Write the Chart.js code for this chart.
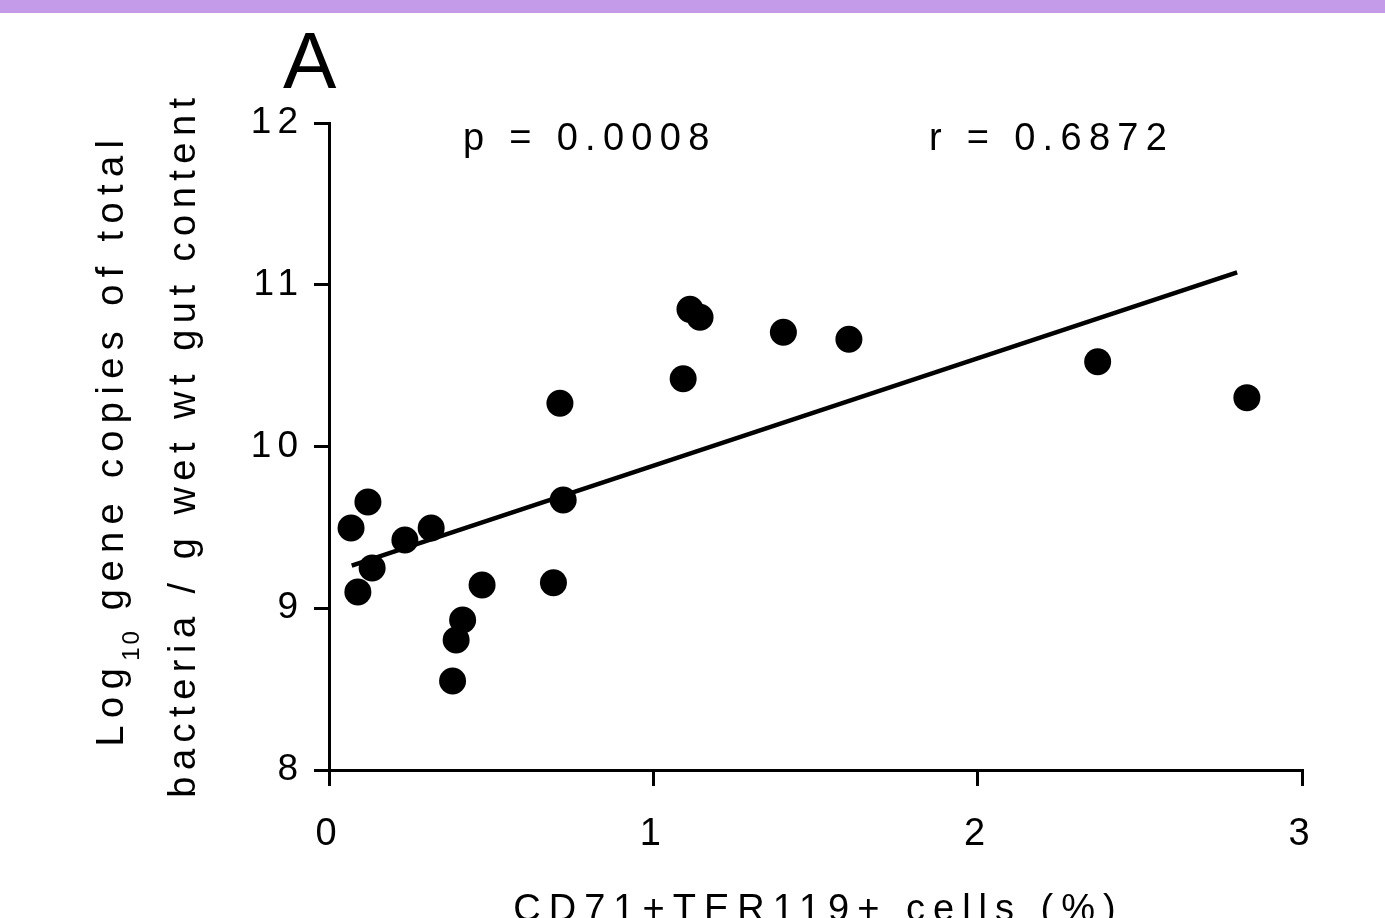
<!DOCTYPE html>
<html>
<head>
<meta charset="utf-8">
<script src="https://cdn.jsdelivr.net/npm/chart.js@4.4.1/dist/chart.umd.min.js"></script>
<style>
html, body { margin: 0; padding: 0; background: #ffffff; }
#wrap { position: relative; width: 1385px; height: 918px; overflow: hidden; background: #ffffff; }
#bar { position: absolute; left: 0; top: 0; width: 1385px; height: 13px; background: #c49be8; }
#c { position: absolute; left: 0; top: 0; }
</style>
</head>
<body>
<div id="wrap"><div id="bar"></div><canvas id="c" width="1385" height="918"></canvas></div>
<script>
// ---- data ----
const xValues = [0.068, 0.120, 0.089, 0.133, 0.234, 0.315, 0.412, 0.392, 0.381, 0.472,
                 0.692, 0.722, 1.113, 1.144, 1.401, 1.603, 1.092, 0.712, 2.370, 2.830];
const yValues = [9.496, 9.657, 9.100, 9.249, 9.422, 9.496, 8.927, 8.804, 8.550, 9.144,
                 9.158, 9.669, 10.848, 10.799, 10.706, 10.663, 10.419, 10.267, 10.524, 10.302];
const fitX = [0.07, 2.80];
const fitY = [9.263, 11.077];
const xTicks = [0, 1, 2, 3];
const yTicks = [8, 9, 10, 11, 12];
const panelLabel = 'A';
const pText = 'p = 0.0008';
const rText = 'r = 0.6872';
const xTitle = 'CD71+TER119+ cells (%)';
const yTitle1 = ['Log', '10', ' gene copies of total'];
const yTitle2 = 'bacteria / g wet wt gut content';

const FONT = '"Liberation Sans", Arial, Helvetica, sans-serif';

const textPlugin = {
  id: 'texts',
  beforeDraw(chart) {
    chart.ctx.letterSpacing = '6px';
  },
  afterDraw(chart) {
    const ctx = chart.ctx;
    const a = chart.chartArea;
    ctx.save();
    ctx.fillStyle = '#000';
    ctx.textBaseline = 'alphabetic';
    ctx.textAlign = 'left';

    // panel label
    ctx.letterSpacing = '0px';
    ctx.font = '80px ' + FONT;
    ctx.fillText(panelLabel, a.left - 46, 88);

    // annotations
    ctx.letterSpacing = '7.3px';
    ctx.font = '38px ' + FONT;
    ctx.fillText(pText, a.left + 134, a.top + 27);
    ctx.fillText(rText, a.left + 600, a.top + 27);

    // x title
    ctx.letterSpacing = '8px';
    ctx.textAlign = 'center';
    ctx.fillText(xTitle, (a.left + a.right) / 2 + 3, 921);

    // y title (rotated)
    ctx.textAlign = 'left';
    const midY = (a.top + a.bottom) / 2;
    // line 1 with subscript
    ctx.letterSpacing = '7.4px';
    ctx.font = '38px ' + FONT;
    const w0 = ctx.measureText(yTitle1[0]).width;
    const w2 = ctx.measureText(yTitle1[2]).width;
    ctx.letterSpacing = '3px';
    ctx.font = '24px ' + FONT;
    const w1 = ctx.measureText(yTitle1[1]).width;
    const total1 = w0 + w1 + w2;
    ctx.save();
    ctx.translate(123, midY - 7);
    ctx.rotate(-Math.PI / 2);
    let x = -total1 / 2;
    ctx.letterSpacing = '7.4px';
    ctx.font = '38px ' + FONT;
    ctx.fillText(yTitle1[0], x, 0);
    x += w0;
    ctx.letterSpacing = '3px';
    ctx.font = '24px ' + FONT;
    ctx.fillText(yTitle1[1], x, 16);
    x += w1;
    ctx.letterSpacing = '7.4px';
    ctx.font = '38px ' + FONT;
    ctx.fillText(yTitle1[2], x, 0);
    ctx.restore();
    // line 2
    ctx.letterSpacing = '6.5px';
    ctx.font = '38px ' + FONT;
    const wl2 = ctx.measureText(yTitle2).width;
    ctx.save();
    ctx.translate(195, midY - 2);
    ctx.rotate(-Math.PI / 2);
    ctx.fillText(yTitle2, -wl2 / 2, 0);
    ctx.restore();

    ctx.restore();
  }
};

const axisCommon = {
  grid: { display: true, drawOnChartArea: false, drawTicks: true, lineWidth: 3, color: '#000' },
  border: { display: true, width: 3, color: '#000' }
};

new Chart(document.getElementById('c').getContext('2d'), {
  type: 'scatter',
  data: {
    datasets: [
      {
        type: 'line',
        data: fitX.map((v, i) => ({ x: v, y: fitY[i] })),
        borderColor: '#000',
        borderWidth: 4.5,
        pointRadius: 0,
        fill: false,
        tension: 0,
        order: 2
      },
      {
        data: xValues.map((v, i) => ({ x: v, y: yValues[i] })),
        backgroundColor: '#000',
        borderColor: '#000',
        borderWidth: 0,
        pointRadius: 13.5,
        pointHoverRadius: 13.5,
        order: 1
      }
    ]
  },
  options: {
    responsive: false,
    animation: false,
    devicePixelRatio: 1,
    events: [],
    layout: { padding: { left: 0, right: 83, top: 123, bottom: 0 } },
    plugins: { legend: { display: false }, tooltip: { enabled: false } },
    scales: {
      x: {
        type: 'linear', min: 0, max: 3,
        afterBuildTicks: s => { s.ticks = xTicks.map(v => ({ value: v })); },
        afterFit: s => { s.height = 148; },
        ticks: { font: { family: FONT, size: 38 }, color: '#000', padding: 26 },
        grid: Object.assign({}, axisCommon.grid, { tickLength: 16 }),
        border: axisCommon.border
      },
      y: {
        type: 'linear', min: 8, max: 12,
        afterBuildTicks: s => { s.ticks = yTicks.map(v => ({ value: v })); },
        afterFit: s => { s.width = 329; },
        ticks: { font: { family: FONT, size: 37 }, color: '#000', padding: 10 },
        grid: Object.assign({}, axisCommon.grid, { tickLength: 15 }),
        border: axisCommon.border
      }
    }
  },
  plugins: [textPlugin]
});
</script>
</body>
</html>
